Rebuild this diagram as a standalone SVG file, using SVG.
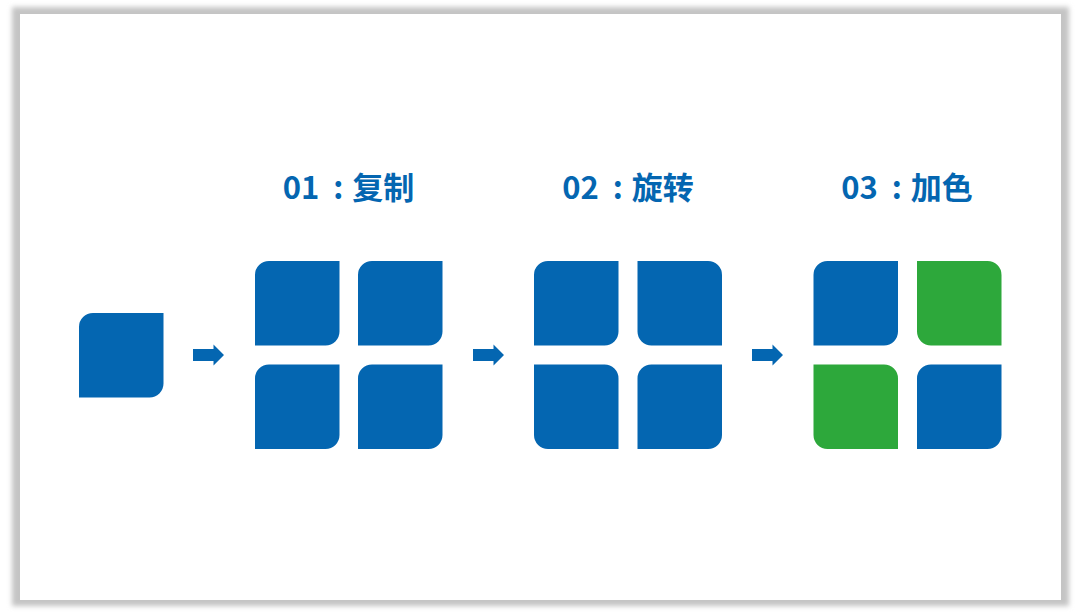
<svg xmlns="http://www.w3.org/2000/svg" xmlns:xlink="http://www.w3.org/1999/xlink" width="1080" height="615" viewBox="0 0 1080 615">
  <defs>
    <filter id="blur" x="-5%" y="-5%" width="110%" height="110%">
      <feGaussianBlur stdDeviation="2.5"/>
    </filter>
    <path id="sqA" d="M14,0 H84.5 V70.5 A14 14 0 0 1 70.5,84.5 H0 V14 A14 14 0 0 1 14,0 Z"/>
    <path id="sqB" d="M0,0 H70.5 A14 14 0 0 1 84.5,14 V84.5 H14 A14 14 0 0 1 0,70.5 Z"/>
    <path id="arrow" d="M0,-6 H20.5 V-10.5 L31,0 L20.5,10.5 V6 H0 Z"/>
  </defs>
  <style>
    .blue { fill: #0466b1; }
    .green { fill: #2da83b; }
    .title { font-family: "Noto Sans CJK SC", "Noto Sans", sans-serif; font-weight: bold; font-size: 31px; fill: #0466b1; text-anchor: middle; }
  </style>
  <rect x="0" y="0" width="1080" height="615" fill="#ffffff"/>
  <rect x="12" y="7" width="1057" height="599" fill="#c4c4c4" filter="url(#blur)"/>
  <rect x="20" y="14" width="1041" height="586" fill="#ffffff"/>

  <g id="source">
    <use xlink:href="#sqA" class="blue" transform="translate(79,313)"/>
  </g>

  <g id="step1">
    <text class="title" x="348.5" y="199">01<tspan dx="14">:</tspan><tspan dx="9">复制</tspan></text>
    <use xlink:href="#sqA" class="blue" transform="translate(255,261)"/>
    <use xlink:href="#sqA" class="blue" transform="translate(358,261)"/>
    <use xlink:href="#sqA" class="blue" transform="translate(255,364.5)"/>
    <use xlink:href="#sqA" class="blue" transform="translate(358,364.5)"/>
  </g>

  <g id="step2">
    <text class="title" x="628" y="199">02<tspan dx="14">:</tspan><tspan dx="9">旋转</tspan></text>
    <use xlink:href="#sqA" class="blue" transform="translate(534,261)"/>
    <use xlink:href="#sqB" class="blue" transform="translate(637.5,261)"/>
    <use xlink:href="#sqB" class="blue" transform="translate(534,364.5)"/>
    <use xlink:href="#sqA" class="blue" transform="translate(637.5,364.5)"/>
  </g>

  <g id="step3">
    <text class="title" x="907" y="199">03<tspan dx="14">:</tspan><tspan dx="9">加色</tspan></text>
    <use xlink:href="#sqA" class="blue" transform="translate(813.5,261)"/>
    <use xlink:href="#sqB" class="green" transform="translate(917,261)"/>
    <use xlink:href="#sqB" class="green" transform="translate(813.5,364.5)"/>
    <use xlink:href="#sqA" class="blue" transform="translate(917,364.5)"/>
  </g>

  <g id="connectors">
    <use xlink:href="#arrow" class="blue" transform="translate(193,355)"/>
    <use xlink:href="#arrow" class="blue" transform="translate(473,355)"/>
    <use xlink:href="#arrow" class="blue" transform="translate(752,355)"/>
  </g>
</svg>
